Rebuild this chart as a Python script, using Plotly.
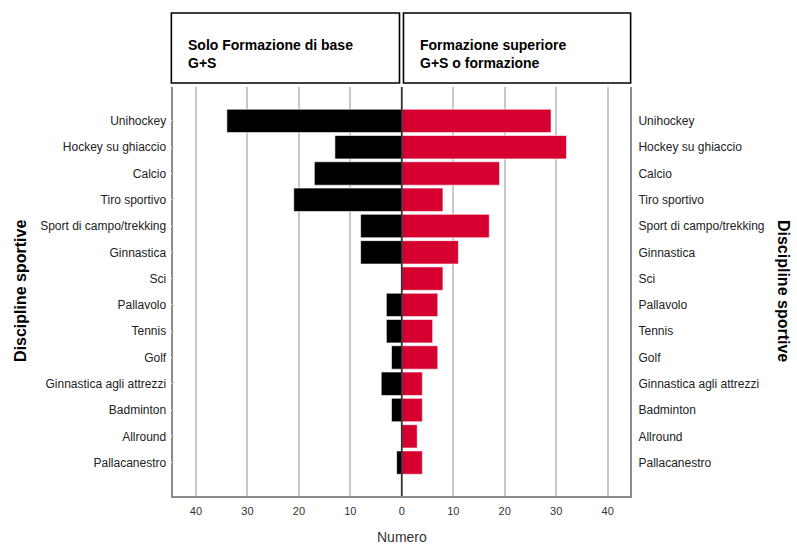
import plotly.graph_objects as go

categories = ["Unihockey", "Hockey su ghiaccio", "Calcio", "Tiro sportivo",
              "Sport di campo/trekking", "Ginnastica", "Sci", "Pallavolo",
              "Tennis", "Golf", "Ginnastica agli attrezzi", "Badminton",
              "Allround", "Pallacanestro"]
base_only = [34, 13, 17, 21, 8, 8, 0, 3, 3, 2, 4, 2, 0, 1]
superiore = [29, 32, 19, 8, 17, 11, 8, 7, 6, 7, 4, 4, 3, 4]
left_ticks = [0, 10, 20, 30, 40]
right_ticks = [10, 20, 30, 40]
title_left = "Solo Formazione di base<br>G+S"
title_right = "Formazione superiore<br>G+S o formazione"
y_title = "Discipline sportive"
x_title = "Numero"

W, H = 797, 544
def px(x):
    return x / W
def py(y):
    return 1 - y / H

X0, XM, X1 = 174, 403.3, 632.7
YT, YB = 87, 496
FONT = "Liberation Sans, Arial, sans-serif"
GRID = "#c8c8c8"
AX = "#8a8a8a"
RED = "#D5002F"

fig = go.Figure()
fig.add_trace(go.Bar(y=categories, x=base_only, orientation="h", width=0.89,
                     marker=dict(color="black", line=dict(color="white", width=0.6)),
                     xaxis="x", yaxis="y", showlegend=False))
fig.add_trace(go.Bar(y=categories, x=superiore, orientation="h", width=0.89,
                     marker=dict(color=RED, line=dict(color="white", width=0.6)),
                     xaxis="x2", yaxis="y2", showlegend=False))

yrange = [14.27, -1.29]
tickfont = dict(family=FONT, size=12, color="#222")
fig.update_layout(
    width=W, height=H, margin=dict(l=0, r=0, t=0, b=0),
    paper_bgcolor="white", plot_bgcolor="white",
    bargap=0.1,
    xaxis=dict(domain=[px(X0), px(XM)], range=[44.4, 0], tickvals=left_ticks,
               showgrid=True, gridcolor=GRID, gridwidth=1.5, zeroline=False,
               showline=True, linecolor=AX, linewidth=1.5, ticks="outside",
               ticklen=4, tickcolor="white",
               tickfont=dict(family=FONT, size=11, color="#333"), anchor="y"),
    xaxis2=dict(domain=[px(XM), px(X1)], range=[0, 44.4], tickvals=right_ticks,
                showgrid=True, gridcolor=GRID, gridwidth=1.5, zeroline=False,
                showline=True, linecolor=AX, linewidth=1.5, ticks="outside",
                ticklen=4, tickcolor="white",
                tickfont=dict(family=FONT, size=11, color="#333"), anchor="y2"),
    yaxis=dict(domain=[py(YB), py(YT)], type="category", range=yrange,
               showgrid=False, zeroline=False, showline=True, linecolor=AX,
               linewidth=1.5, ticks="outside", ticklen=3, tickcolor="white",
               tickfont=tickfont, anchor="x"),
    yaxis2=dict(domain=[py(YB), py(YT)], type="category", range=yrange,
                side="right", showgrid=False, zeroline=False, showline=True,
                linecolor=AX, linewidth=1.5, ticks="outside", ticklen=4,
                tickcolor="white", tickfont=tickfont, anchor="x2"),
)

shapes = [
    dict(type="line", xref="paper", yref="paper", x0=px(XM), x1=px(XM),
         y0=py(YB), y1=py(YT), line=dict(color="#333", width=1.8)),
    dict(type="rect", xref="paper", yref="paper", x0=px(172), x1=px(401),
         y0=py(83), y1=py(13), line=dict(color="black", width=1.6)),
    dict(type="rect", xref="paper", yref="paper", x0=px(405), x1=px(633),
         y0=py(83), y1=py(13), line=dict(color="black", width=1.6)),
]
fig.update_layout(shapes=shapes)

ann = [
    dict(text="<b>" + title_left + "</b>", xref="paper", yref="paper",
         x=px(187), y=py(35), xanchor="left", yanchor="top", align="left",
         showarrow=False, font=dict(family=FONT, size=14, color="black")),
    dict(text="<b>" + title_right + "</b>", xref="paper", yref="paper",
         x=px(420), y=py(35), xanchor="left", yanchor="top", align="left",
         showarrow=False, font=dict(family=FONT, size=14, color="black")),
    dict(text="<b>" + y_title + "</b>", xref="paper", yref="paper",
         x=px(20), y=py(291), xanchor="center", yanchor="middle", textangle=-90,
         showarrow=False, font=dict(family=FONT, size=16, color="black")),
    dict(text="<b>" + y_title + "</b>", xref="paper", yref="paper",
         x=px(787), y=py(291), xanchor="center", yanchor="middle", textangle=90,
         showarrow=False, font=dict(family=FONT, size=16, color="black")),
    dict(text=x_title, xref="paper", yref="paper",
         x=px(XM), y=py(537), xanchor="center", yanchor="middle",
         showarrow=False, font=dict(family=FONT, size=14, color="#333")),
]
fig.update_layout(annotations=ann)

fig.write_html("out.html", config={"displayModeBar": False},
               post_script="document.body.style.margin='0';document.body.style.overflow='hidden';")
